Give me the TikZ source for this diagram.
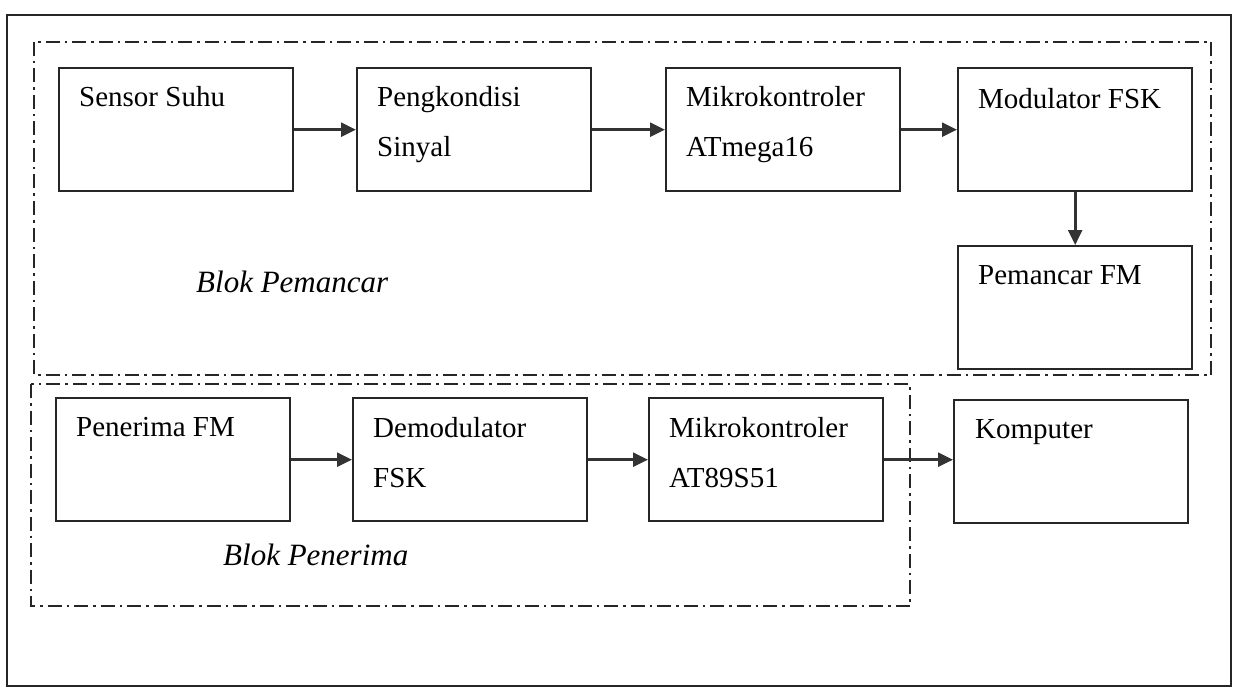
\documentclass[tikz,border=0pt]{standalone}
\usepackage{fontspec}
\setmainfont{Liberation Serif}
\usetikzlibrary{arrows.meta}
\begin{document}
\begin{tikzpicture}[x=1pt,y=-1pt,
  blk/.style={draw=black!85, line width=2.4pt, minimum width=234pt, minimum height=123pt, inner sep=0pt, anchor=north west},
  lbl/.style={font=\fontsize{29}{50}\selectfont, align=left, inner sep=0pt, anchor=north west},
  ital/.style={font=\fontsize{31}{36}\selectfont\itshape, inner sep=0pt, anchor=base west},
  grp/.style={draw=black!85, line width=2pt, dash pattern=on 14pt off 5pt on 2.5pt off 5pt},
  arr/.style={line width=2.6pt, draw=black!80, -{Triangle[length=15pt,width=14pt]}}]
\useasboundingbox (0,0) rectangle (1239,695);
\draw[line width=2.4pt, draw=black!85] (7,15) rectangle (1231,686);
\draw[grp] (34,42) rectangle (1211,375);
\draw[grp] (31,384) rectangle (910,606);
% top row
\node[blk] (sensor) at (58,67) {};
\node[blk] (kond) at (356,67) {};
\node[blk] (mega) at (665,67) {};
\node[blk] (mod) at (957,67) {};
\node[blk] (tx) at (957,245) {};
% bottom row
\node[blk] (rx) at (55,397) {};
\node[blk] (demod) at (352,397) {};
\node[blk] (at89) at (648,397) {};
\node[blk] (pc) at (953,399) {};
% labels
\node[lbl] (tsensor) at ([shift={(21,19)}]sensor.north west) {Sensor Suhu};
\node[lbl] (tkond) at ([shift={(21,19)}]kond.north west) {Pengkondisi\\Sinyal};
\node[lbl] (tmega) at ([shift={(21,19)}]mega.north west) {Mikrokontroler\\ATmega16};
\node[lbl] (tmod) at ([shift={(21,21)}]mod.north west) {Modulator FSK};
\node[lbl] (ttx) at ([shift={(21,20)}]tx.north west) {Pemancar FM};
\node[lbl] (trx) at ([shift={(21,20)}]rx.north west) {Penerima FM};
\node[lbl] (tdemod) at ([shift={(21,20)}]demod.north west) {Demodulator\\FSK};
\node[lbl] (tat89) at ([shift={(21,20)}]at89.north west) {Mikrokontroler\\AT89S51};
\node[lbl] (tpc) at ([shift={(22,20)}]pc.north west) {Komputer};
\node[ital] (bpem) at (196,292) {Blok Pemancar};
\node[ital] (bpen) at (223,565) {Blok Penerima};
% connectors
\draw[arr] (sensor.east) -- (kond.west);
\draw[arr] (kond.east) -- (mega.west);
\draw[arr] (mega.east) -- (mod.west);
\draw[arr] (mod.south) -- (tx.north);
\draw[arr] (rx.east) -- (demod.west);
\draw[arr] (demod.east) -- (at89.west);
\draw[arr] (at89.east) -- (pc.west |- at89.east);
\end{tikzpicture}
\end{document}
